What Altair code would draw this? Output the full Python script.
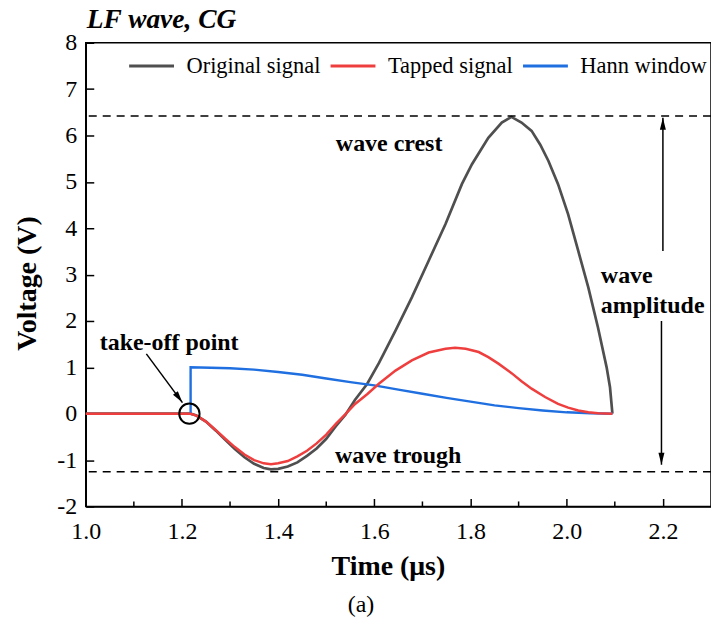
import altair as alt
import pandas as pd

# ---------------- data ----------------
orig_t = [1.0, 1.218, 1.23, 1.25, 1.27, 1.29, 1.31, 1.33, 1.35, 1.37, 1.385, 1.40, 1.42,
          1.44, 1.46, 1.48, 1.50, 1.52, 1.54, 1.56, 1.585, 1.61, 1.644, 1.678, 1.713,
          1.748, 1.782, 1.803, 1.837, 1.865, 1.885, 1.906, 1.927, 1.945, 1.962, 1.982,
          2.003, 2.024, 2.045, 2.065, 2.083, 2.090, 2.095]
orig_v = [0.0, 0.0, -0.04, -0.17, -0.36, -0.56, -0.76, -0.94, -1.08, -1.17, -1.20, -1.19,
          -1.14, -1.05, -0.91, -0.75, -0.54, -0.27, -0.02, 0.30, 0.64, 1.10, 1.79, 2.51,
          3.30, 4.09, 4.95, 5.38, 5.95, 6.28, 6.40, 6.28, 6.10, 5.80, 5.45, 4.95, 4.30,
          3.51, 2.72, 1.86, 1.00, 0.57, 0.0]

tap_t = [1.0, 1.218, 1.23, 1.25, 1.27, 1.29, 1.31, 1.33, 1.35, 1.37, 1.385, 1.40, 1.42,
         1.44, 1.46, 1.48, 1.50, 1.52, 1.54, 1.56, 1.585, 1.61, 1.644, 1.678, 1.713,
         1.748, 1.768, 1.79, 1.817, 1.837, 1.858, 1.886, 1.906, 1.927, 1.955, 1.982,
         2.003, 2.024, 2.045, 2.065, 2.095]
tap_v = [0.0, 0.0, -0.04, -0.17, -0.35, -0.54, -0.72, -0.88, -1.00, -1.07, -1.09, -1.07,
         -1.02, -0.92, -0.80, -0.64, -0.45, -0.22, -0.01, 0.21, 0.42, 0.65, 0.93, 1.15,
         1.32, 1.40, 1.42, 1.40, 1.33, 1.22, 1.08, 0.87, 0.70, 0.54, 0.36, 0.21, 0.13,
         0.07, 0.03, 0.01, 0.0]

hann_t = [1.218, 1.218, 1.26, 1.30, 1.35, 1.40, 1.45, 1.50, 1.55, 1.60, 1.65, 1.70, 1.75,
          1.80, 1.85, 1.90, 1.95, 2.00, 2.05, 2.095]
hann_v = [0.0, 1.0, 0.99, 0.98, 0.95, 0.90, 0.84, 0.76, 0.68, 0.61, 0.52, 0.43, 0.34,
          0.26, 0.18, 0.12, 0.07, 0.03, 0.01, 0.0]

series_names = ["Original signal", "Tapped signal", "Hann window"]
series_colors = ["#4f4f4f", "#ef3e3e", "#1f6fe0"]

x_major = [1.0, 1.2, 1.4, 1.6, 1.8, 2.0, 2.2]
x_minor = [1.1, 1.3, 1.5, 1.7, 1.9, 2.1]
y_ticks = [-2, -1, 0, 1, 2, 3, 4, 5, 6, 7, 8]

level_v = [6.42, -1.25]           # wave crest / wave trough reference lines

ann_text = ["wave crest", "wave trough", "take-off point", "wave", "amplitude"]
ann_t = [1.52, 1.518, 1.029, 2.071, 2.071]
ann_v = [5.82, -0.905, 1.53, 2.97, 2.33]

arrow_t1 = [1.126, 2.2, 2.197]
arrow_v1 = [1.29, 3.51, 2.0]
arrow_t2 = [1.201, 2.2, 2.197]
arrow_v2 = [0.24, 6.38, -1.10]
arrow_angle = [144, 0, 180]

takeoff_t = [1.2155]
takeoff_v = [0.0]

chart_title = "LF wave, CG"
caption_text = "(a)"

FONT = "Liberation Serif"
W, H = 627, 465

# ---------------- frames ----------------
def series_df(ts, vs, name):
    return pd.DataFrame({"t": ts, "v": vs, "series": name, "i": list(range(len(ts)))})

df_orig = series_df(orig_t, orig_v, series_names[0])
df_tap = series_df(tap_t, tap_v, series_names[1])
df_hann = series_df(hann_t, hann_v, series_names[2])
df_levels = pd.DataFrame({"v": level_v})
df_ann = pd.DataFrame({"t": ann_t, "v": ann_v, "label": ann_text})
df_arrows = pd.DataFrame({"t": arrow_t1, "v": arrow_v1, "t2": arrow_t2, "v2": arrow_v2,
                          "angle": arrow_angle})
df_heads = pd.DataFrame({"t": arrow_t2, "v": arrow_v2, "angle": arrow_angle})
df_takeoff = pd.DataFrame({"t": takeoff_t, "v": takeoff_v})
df_minor = pd.DataFrame({"t": x_minor})
df_one = pd.DataFrame({"k": [0]})

xscale = alt.Scale(domain=[1.0, 2.3], nice=False, zero=False)
yscale = alt.Scale(domain=[-2, 8], nice=False, zero=False)

color = alt.Color(
    "series:N",
    scale=alt.Scale(domain=series_names, range=series_colors),
    legend=alt.Legend(
        title=None, orient="none", legendX=42, legendY=-1, direction="horizontal",
        symbolType="stroke", symbolSize=2025, symbolStrokeWidth=3,
        labelFont=FONT, labelFontSize=22.5, labelColor="black", labelOffset=11,
        columnPadding=3, padding=0,
    ),
)

x_axis = alt.Axis(
    title="Time (μs)", values=x_major, format=".1f", grid=False,
    tickSize={"expr": "-8"}, labelPadding=21, titlePadding=9,
    titleX=303, titleAlign="center",
)
y_axis = alt.Axis(
    title="Voltage (V)", values=y_ticks, grid=False, labelExpr="'' + datum.value",
    tickSize={"expr": "-8"}, labelPadding=17, titlePadding=15, titleY=241,
)

X = alt.X("t:Q", scale=xscale, axis=x_axis)
Y = alt.Y("v:Q", scale=yscale, axis=y_axis)

orig_layer = alt.Chart(df_orig).mark_line(strokeWidth=2.7).encode(
    x=X, y=Y, color=color, order="i:Q")
hann_layer = alt.Chart(df_hann).mark_line(strokeWidth=2.4).encode(
    x=X, y=Y, color=color, order="i:Q")
tap_layer = alt.Chart(df_tap).mark_line(strokeWidth=2.5).encode(
    x=X, y=Y, color=color, order="i:Q")

levels = alt.Chart(df_levels).mark_rule(
    color="black", strokeWidth=1.5, strokeDash=[8, 6]).encode(y=Y)

minor = alt.Chart(df_minor).mark_rule(color="black", strokeWidth=1.5).encode(
    x=X, y=alt.value(H), y2=alt.value(H - 5))

ann = alt.Chart(df_ann).mark_text(
    align="left", baseline="middle", font=FONT, fontSize=24, fontWeight="bold",
    color="black").encode(x=X, y=Y, text="label:N")

arrow_lines = alt.Chart(df_arrows).mark_rule(color="black", strokeWidth=1.5).encode(
    x=X, y=Y, x2="t2:Q", y2="v2:Q")
arrow_heads = alt.Chart(df_heads).mark_point(
    shape="M0,0L-0.25,1L0.25,1Z", filled=True, color="black", opacity=1, size=576,
    strokeWidth=0).encode(x=X, y=Y, angle=alt.Angle("angle:Q", scale=None))

circle = alt.Chart(df_takeoff).mark_point(
    shape="circle", filled=False, color="black", strokeWidth=2, size=415, opacity=1
).encode(x=X, y=Y)

title_mark = alt.Chart(df_one).mark_text(
    font=FONT, fontSize=27.5, fontWeight="bold", fontStyle="italic", color="black",
    align="left", baseline="alphabetic", text=chart_title
).encode(x=alt.value(1), y=alt.value(-15))

caption = alt.Chart(df_one).mark_text(
    font=FONT, fontSize=24, color="black", align="center", baseline="middle",
    text=caption_text).encode(x=alt.value(276), y=alt.value(564))

chart = alt.layer(
    orig_layer, hann_layer, tap_layer, levels, minor, ann, arrow_lines, arrow_heads,
    circle, title_mark, caption,
).properties(
    width=W, height=H, background="white",
    autosize=alt.AutoSizeParams(type="none"),
    padding={"left": 86, "top": 42, "right": 0, "bottom": 114},
).configure_view(
    stroke="black", strokeWidth=1.5
).configure_axis(
    labelFont=FONT, labelFontSize=24, labelColor="black", labelFlush=False,
    titleFont=FONT, titleFontSize=28, titleFontWeight="bold", titleColor="black",
    tickWidth=1.5, tickColor="black", domainColor="black", domainWidth=1.5,
).configure_legend(labelFont=FONT)

chart.save("out.html", embed_options={"renderer": "svg", "actions": False})
